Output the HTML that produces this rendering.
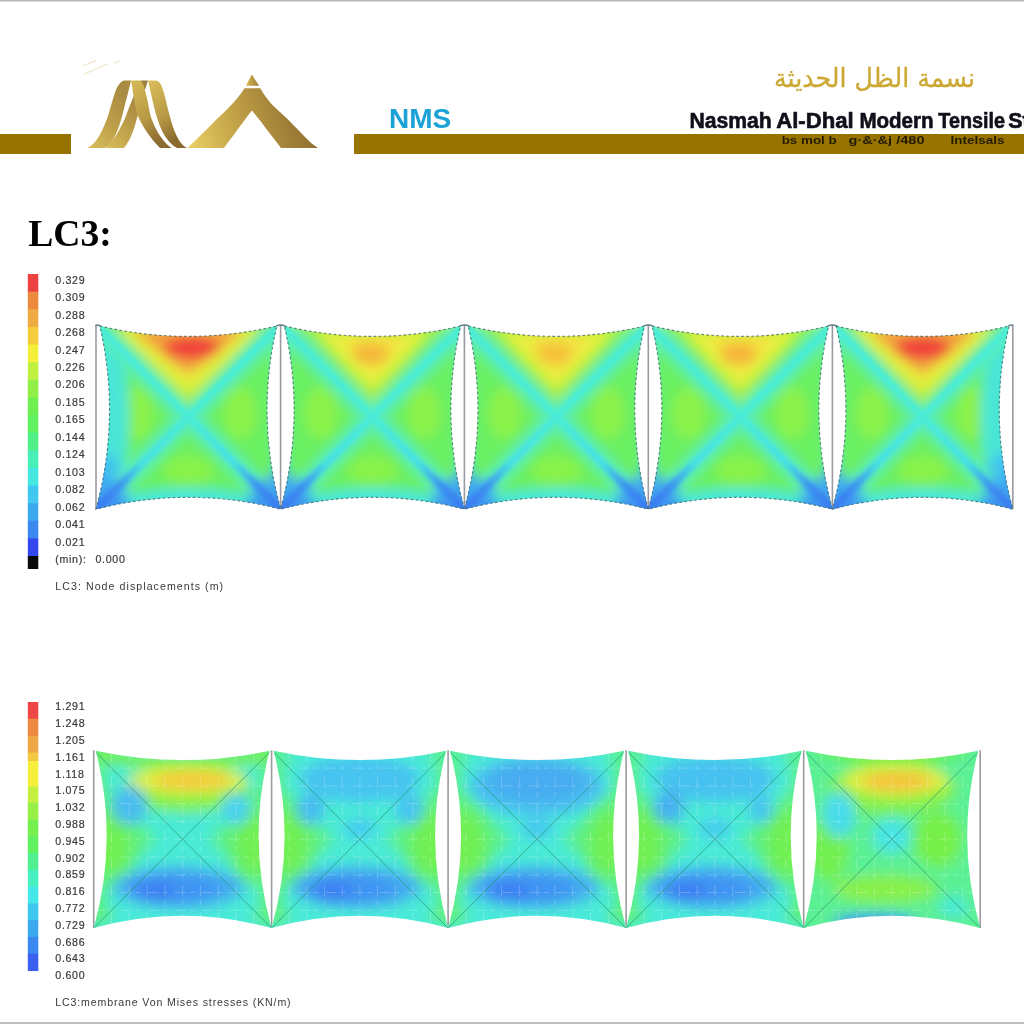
<!DOCTYPE html>
<html><head><meta charset="utf-8"><title>LC3</title>
<style>
html,body{margin:0;padding:0;background:#fff;}
body{width:1024px;height:1024px;position:relative;overflow:hidden;}
</style></head>
<body>
<svg width="1024" height="1024" viewBox="0 0 1024 1024" style="position:absolute;left:0;top:0"><defs>
<linearGradient id="gA" x1="0" y1="1" x2="0.6" y2="0"><stop offset="0" stop-color="#d9bf5c"/><stop offset="0.5" stop-color="#bd9f4a"/><stop offset="1" stop-color="#a88a42"/></linearGradient>
<linearGradient id="gB" x1="0" y1="0" x2="0.4" y2="1"><stop offset="0" stop-color="#d6b957"/><stop offset="0.6" stop-color="#b99a45"/><stop offset="1" stop-color="#8c6c30"/></linearGradient>
<linearGradient id="gC" x1="0" y1="1" x2="0.6" y2="0"><stop offset="0" stop-color="#d8bd58"/><stop offset="0.6" stop-color="#b49545"/><stop offset="1" stop-color="#9c7e3e"/></linearGradient>
<linearGradient id="gD" x1="0" y1="0" x2="0.4" y2="1"><stop offset="0" stop-color="#dbbe5c"/><stop offset="0.6" stop-color="#b89946"/><stop offset="1" stop-color="#8a6a2e"/></linearGradient>
<linearGradient id="gTip" x1="0" y1="0" x2="1" y2="0"><stop offset="0" stop-color="#d8bb55"/><stop offset="1" stop-color="#9a7a38"/></linearGradient>
<linearGradient id="gT" gradientUnits="userSpaceOnUse" x1="190" y1="148" x2="318" y2="110"><stop offset="0" stop-color="#e8cf62"/><stop offset="0.45" stop-color="#bb9a44"/><stop offset="1" stop-color="#87682c"/></linearGradient>
</defs><rect x="0" y="0" width="1024" height="1.5" fill="#b8b8b8"/><rect x="0" y="1022" width="1024" height="2" fill="#bebebe"/><rect x="0" y="134" width="71" height="20" fill="#977400"/><rect x="354" y="134" width="670" height="20" fill="#977400"/><g id="logo">
<path d="M83.2,65.8 L96.1,60.6 M83.8,74.3 L107.8,63.8 M114.2,63.2 L119.5,60.9" stroke="#eee4c6" stroke-width="1.2" fill="none"/>
<path d="M141,80.5 L148,80.5 C144,92 141,102 138,114 C135,126 132,138 124,148 L106,148 C114,140 121,128 125.5,117 C130,105 135,92 141,80.5 Z" fill="url(#gC)"/>
<path d="M131,80.5 L141,80.5 C145,86 147.5,100 150.3,115 C153,124 160,140 171.5,148 L160,148 C150,138 141,124 137.4,115 C135,107 133,92 131,80.5 Z" fill="url(#gB)"/>
<path d="M86.5,148 C96,146 104,128 109,113 C114,97 116,83 124,80.5 L131,80.5 C129,90 126,100 123,113 C119,128 113,145 104.5,148 Z" fill="url(#gA)"/>
<path d="M148,80.5 L156,80.5 C160,81 162,86 164,93 C167,105 170,118 173,127 C177,138 181,145 187,148 L177,148 C168,143 162,133 157.8,120 C154,109 151,93 148,80.5 Z" fill="url(#gD)"/>
<path d="M251.8,74.6 L259.1,85.8 L245.9,85.8 Z" fill="url(#gTip)"/>
<path d="M244.5,88.3 L260.3,88.3 C267,100 273,106 280,112 C290,121 299,131 305,137 C309,141 313,145 318,148 L281,148 C270,134 260,120 251.8,110.5 C246,118 236,132 224,148 L187.3,148 C195,141 205,131 212,124 C222,114 236,102 244.5,88.3 Z" fill="url(#gT)"/>
</g><text x="389" y="127.9" font-family="Liberation Sans, Arial, sans-serif" font-weight="bold" font-size="28" fill="#1ba3d8">NMS</text><text x="874.5" y="86.8" text-anchor="middle" textLength="201" lengthAdjust="spacingAndGlyphs" font-family="DejaVu Sans, sans-serif" font-size="26" fill="#cca833" stroke="#cca833" stroke-width="0.3">نسمة الظل الحديثة</text><g font-family="Liberation Sans, Arial, sans-serif" font-weight="bold" font-size="21.4" fill="#10101a" stroke="#10101a" stroke-width="0.6"><text x="689.4" y="127.6" textLength="82.3" lengthAdjust="spacingAndGlyphs">Nasmah</text><text x="776.2" y="127.6" textLength="77.6" lengthAdjust="spacingAndGlyphs">Al-Dhal</text><text x="859.4" y="127.6" textLength="74.2" lengthAdjust="spacingAndGlyphs">Modern</text><text x="938.3" y="127.6" textLength="66.6" lengthAdjust="spacingAndGlyphs">Tensile</text><text x="1008.3" y="127.6">Structures</text></g><g font-family="Liberation Sans, Arial, sans-serif" font-weight="bold" font-size="10" fill="#251b02"><text x="781.7" y="144" textLength="55" lengthAdjust="spacingAndGlyphs">bs mol b</text><text x="848.5" y="144" textLength="76" lengthAdjust="spacingAndGlyphs">g·&amp;·&amp;j /480</text><text x="950.5" y="144" textLength="54" lengthAdjust="spacingAndGlyphs">Intelsals</text></g><text x="28.2" y="245.6" font-family="Liberation Serif, Times New Roman, serif" font-weight="bold" font-size="37.6" fill="#000">LC3:</text></svg>
<svg width="1024" height="1024" viewBox="0 0 1024 1024" style="position:absolute;left:0;top:0"><defs>
<linearGradient id="dgL" gradientUnits="userSpaceOnUse" x1="0" y1="100" x2="50" y2="50"><stop offset="0" stop-color="#3a78f2"/><stop offset="0.22" stop-color="#3c8cf0"/><stop offset="0.5" stop-color="#46e0e4"/><stop offset="1" stop-color="#4aecd8"/></linearGradient>
<linearGradient id="dgR" gradientUnits="userSpaceOnUse" x1="100" y1="100" x2="50" y2="50"><stop offset="0" stop-color="#3a78f2"/><stop offset="0.22" stop-color="#3c8cf0"/><stop offset="0.5" stop-color="#46e0e4"/><stop offset="1" stop-color="#4aecd8"/></linearGradient>
<filter id="blurT" x="-20%" y="-20%" width="140%" height="140%"><feGaussianBlur stdDeviation="3.2"/></filter><filter id="blurT2" x="-20%" y="-20%" width="140%" height="140%"><feGaussianBlur stdDeviation="1.2"/></filter><filter id="blurB" x="-20%" y="-20%" width="140%" height="140%"><feGaussianBlur stdDeviation="3.6"/></filter></defs><rect x="27.8" y="274.00" width="10.5" height="18.23" fill="#ee4242"/>
<rect x="27.8" y="291.62" width="10.5" height="18.23" fill="#ec8a3e"/>
<rect x="27.8" y="309.25" width="10.5" height="18.23" fill="#f0aa42"/>
<rect x="27.8" y="326.88" width="10.5" height="18.23" fill="#f4cc3c"/>
<rect x="27.8" y="344.50" width="10.5" height="18.23" fill="#f4f03a"/>
<rect x="27.8" y="362.12" width="10.5" height="18.23" fill="#c0f040"/>
<rect x="27.8" y="379.75" width="10.5" height="18.23" fill="#90f048"/>
<rect x="27.8" y="397.38" width="10.5" height="18.23" fill="#70f050"/>
<rect x="27.8" y="415.00" width="10.5" height="18.23" fill="#60f060"/>
<rect x="27.8" y="432.62" width="10.5" height="18.23" fill="#50f088"/>
<rect x="27.8" y="450.25" width="10.5" height="18.23" fill="#48f0b8"/>
<rect x="27.8" y="467.88" width="10.5" height="18.23" fill="#44e8e0"/>
<rect x="27.8" y="485.50" width="10.5" height="18.23" fill="#40c8f0"/>
<rect x="27.8" y="503.12" width="10.5" height="18.23" fill="#3ca8f0"/>
<rect x="27.8" y="520.75" width="10.5" height="18.23" fill="#3a88f0"/>
<rect x="27.8" y="538.38" width="10.5" height="18.23" fill="#3448f0"/><rect x="27.8" y="556" width="10.5" height="13" fill="#080808"/><rect x="27.8" y="702.00" width="10.5" height="17.20" fill="#ee4646"/><rect x="27.8" y="718.70" width="10.5" height="18.10" fill="#ee8a40"/><rect x="27.8" y="736.30" width="10.5" height="16.90" fill="#f0a846"/><rect x="27.8" y="752.70" width="10.5" height="8.80" fill="#f2c840"/><rect x="27.8" y="761.00" width="10.5" height="25.80" fill="#f6f03c"/><rect x="27.8" y="786.30" width="10.5" height="16.70" fill="#c6f040"/><rect x="27.8" y="802.50" width="10.5" height="17.30" fill="#96f046"/><rect x="27.8" y="819.30" width="10.5" height="17.30" fill="#76f04e"/><rect x="27.8" y="836.10" width="10.5" height="17.30" fill="#60f060"/><rect x="27.8" y="852.90" width="10.5" height="17.30" fill="#50f090"/><rect x="27.8" y="869.70" width="10.5" height="17.30" fill="#48f0c0"/><rect x="27.8" y="886.50" width="10.5" height="17.30" fill="#44e8e8"/><rect x="27.8" y="903.30" width="10.5" height="17.30" fill="#40c8f0"/><rect x="27.8" y="920.10" width="10.5" height="17.30" fill="#3ca8f0"/><rect x="27.8" y="936.90" width="10.5" height="17.30" fill="#3a88f0"/><rect x="27.8" y="953.70" width="10.5" height="17.30" fill="#3a60f0"/><line x1="96.0" y1="324.7" x2="96.0" y2="509.2" stroke="#9a9aa0" stroke-width="1.6"/>
<line x1="280.6" y1="324.7" x2="280.6" y2="509.2" stroke="#9a9aa0" stroke-width="1.6"/>
<line x1="464.4" y1="324.7" x2="464.4" y2="509.2" stroke="#9a9aa0" stroke-width="1.6"/>
<line x1="648.3" y1="324.7" x2="648.3" y2="509.2" stroke="#9a9aa0" stroke-width="1.6"/>
<line x1="832.4" y1="324.7" x2="832.4" y2="509.2" stroke="#9a9aa0" stroke-width="1.6"/>
<line x1="1012.8" y1="324.7" x2="1012.8" y2="509.2" stroke="#9a9aa0" stroke-width="1.6"/><path d="M96.0,325.9 Q96.0,324.1 100.5,325.9" stroke="#45646e" stroke-width="1.6" fill="none" opacity="0.8"/><path d="M276.1,325.9 Q280.6,324.1 285.1,325.9" stroke="#45646e" stroke-width="1.6" fill="none" opacity="0.8"/><path d="M459.9,325.9 Q464.4,324.1 468.9,325.9" stroke="#45646e" stroke-width="1.6" fill="none" opacity="0.8"/><path d="M643.8,325.9 Q648.3,324.1 652.8,325.9" stroke="#45646e" stroke-width="1.6" fill="none" opacity="0.8"/><path d="M827.9,325.9 Q832.4,324.1 836.9,325.9" stroke="#45646e" stroke-width="1.6" fill="none" opacity="0.8"/><path d="M1008.3,325.9 Q1012.8,324.1 1012.8,325.9" stroke="#45646e" stroke-width="1.6" fill="none" opacity="0.8"/><clipPath id="tc0"><path d="M99.8,326.0 Q188.3,346.8 276.8,326.0 Q255.6,416.9 280.6,509.2 Q188.3,485.4 96.0,509.2 Q121.0,416.9 99.8,326.0Z"/></clipPath>
<g clip-path="url(#tc0)"><g transform="translate(96.0,324.7) scale(1.8460,1.8450)" filter="url(#blurT)">
<rect x="-10" y="-10" width="120" height="120" fill="#6af062"/>
<ellipse cx="22" cy="48" rx="9" ry="14" fill="#8cf248"/>
<ellipse cx="78" cy="48" rx="9" ry="14" fill="#8cf248"/>
<ellipse cx="50" cy="79" rx="14" ry="8" fill="#88f24a"/>
<path d="M-2,-5 L-2,105 M102,-5 L102,105" stroke="#50eac8" stroke-width="10"/>
<ellipse cx="4" cy="50" rx="14" ry="44" fill="#4ae6d6"/><ellipse cx="5" cy="82" rx="9" ry="13" fill="#42c4ee"/>
<path d="M-5,104 Q50,84 105,104" stroke="#48e8d8" stroke-width="11" fill="none"/>
<path d="M0,0 L100,100 M100,0 L0,100" stroke="#58eebc" stroke-width="10" fill="none"/>
<path d="M0,100 L0,84 L16,84 L16,100Z" fill="#40a8f0"/>
<path d="M100,100 L100,84 L84,84 L84,100Z" fill="#40a8f0"/>
<circle cx="3" cy="97" r="7" fill="#3a80f2"/>
<circle cx="97" cy="97" r="7" fill="#3a80f2"/>
<ellipse cx="9" cy="99" rx="12" ry="4" fill="#3c90f0"/>
<ellipse cx="91" cy="99" rx="12" ry="4" fill="#3c90f0"/>
<ellipse cx="1" cy="86" rx="4" ry="11" fill="#40a8f0"/>
<ellipse cx="99" cy="86" rx="4" ry="11" fill="#40a8f0"/>
<path d="M6,-2 L94,-2 L50,44 Z" fill="#a8f040"/>
<path d="M12,2 Q50,-2 88,2 Q66,24 50,37 Q34,24 12,2 Z" fill="#e6ee3c"/>
<path d="M20,3 Q50,0 80,3 Q63,18 50,27 Q37,18 20,3 Z" fill="#f2a03c"/>
<ellipse cx="52" cy="12.5" rx="15" ry="6" fill="#f0403a"/>
</g><g transform="translate(96.0,324.7) scale(1.8460,1.8450)" filter="url(#blurT2)"><path d="M1,1 L50,50 M99,1 L50,50" stroke="#4aecd8" stroke-width="3.6" fill="none"/><path d="M0,100 L50,50" stroke="url(#dgL)" stroke-width="4.2" fill="none"/><path d="M100,100 L50,50" stroke="url(#dgR)" stroke-width="4.2" fill="none"/></g></g>
<path d="M99.8,326.0 Q188.3,346.8 276.8,326.0 Q255.6,416.9 280.6,509.2 Q188.3,485.4 96.0,509.2 Q121.0,416.9 99.8,326.0Z" fill="none" stroke="#3d6068" stroke-width="1.15" stroke-dasharray="2.6,2.4" opacity="0.75"/><clipPath id="tc1"><path d="M284.4,326.0 Q372.5,346.8 460.6,326.0 Q439.4,416.9 464.4,509.2 Q372.5,485.4 280.6,509.2 Q305.6,416.9 284.4,326.0Z"/></clipPath>
<g clip-path="url(#tc1)"><g transform="translate(280.6,324.7) scale(1.8380,1.8450)" filter="url(#blurT)">
<rect x="-10" y="-10" width="120" height="120" fill="#6af062"/>
<ellipse cx="22" cy="48" rx="9" ry="14" fill="#8cf248"/>
<ellipse cx="78" cy="48" rx="9" ry="14" fill="#8cf248"/>
<ellipse cx="50" cy="79" rx="14" ry="8" fill="#88f24a"/>
<path d="M-2,-5 L-2,105 M102,-5 L102,105" stroke="#50eac8" stroke-width="10"/>

<path d="M-5,104 Q50,84 105,104" stroke="#48e8d8" stroke-width="11" fill="none"/>
<path d="M0,0 L100,100 M100,0 L0,100" stroke="#58eebc" stroke-width="10" fill="none"/>
<path d="M0,100 L0,84 L16,84 L16,100Z" fill="#40a8f0"/>
<path d="M100,100 L100,84 L84,84 L84,100Z" fill="#40a8f0"/>
<circle cx="3" cy="97" r="7" fill="#3a80f2"/>
<circle cx="97" cy="97" r="7" fill="#3a80f2"/>
<ellipse cx="9" cy="99" rx="12" ry="4" fill="#3c90f0"/>
<ellipse cx="91" cy="99" rx="12" ry="4" fill="#3c90f0"/>
<ellipse cx="1" cy="86" rx="4" ry="11" fill="#40a8f0"/>
<ellipse cx="99" cy="86" rx="4" ry="11" fill="#40a8f0"/>
<path d="M10,-2 L90,-2 L50,42 Z" fill="#a8f040"/>
<path d="M20,3 Q50,-1 80,3 Q64,22 50,34 Q36,22 20,3 Z" fill="#e8f040"/>
<path d="M33,7 Q50,4 67,7 Q58,19 50,26 Q42,19 33,7 Z" fill="#f5e040"/>
<ellipse cx="49" cy="16" rx="10" ry="5.5" fill="#f5b53a"/>
<path d="M4,-3 Q50,9 96,-3" stroke="#b4f040" stroke-width="5" fill="none"/>
</g><g transform="translate(280.6,324.7) scale(1.8380,1.8450)" filter="url(#blurT2)"><path d="M1,1 L50,50 M99,1 L50,50" stroke="#4aecd8" stroke-width="3.6" fill="none"/><path d="M0,100 L50,50" stroke="url(#dgL)" stroke-width="4.2" fill="none"/><path d="M100,100 L50,50" stroke="url(#dgR)" stroke-width="4.2" fill="none"/></g></g>
<path d="M284.4,326.0 Q372.5,346.8 460.6,326.0 Q439.4,416.9 464.4,509.2 Q372.5,485.4 280.6,509.2 Q305.6,416.9 284.4,326.0Z" fill="none" stroke="#3d6068" stroke-width="1.15" stroke-dasharray="2.6,2.4" opacity="0.75"/><clipPath id="tc2"><path d="M468.2,326.0 Q556.3,346.8 644.5,326.0 Q623.3,416.9 648.3,509.2 Q556.3,485.4 464.4,509.2 Q489.4,416.9 468.2,326.0Z"/></clipPath>
<g clip-path="url(#tc2)"><g transform="translate(464.4,324.7) scale(1.8390,1.8450)" filter="url(#blurT)">
<rect x="-10" y="-10" width="120" height="120" fill="#6af062"/>
<ellipse cx="22" cy="48" rx="9" ry="14" fill="#8cf248"/>
<ellipse cx="78" cy="48" rx="9" ry="14" fill="#8cf248"/>
<ellipse cx="50" cy="79" rx="14" ry="8" fill="#88f24a"/>
<path d="M-2,-5 L-2,105 M102,-5 L102,105" stroke="#50eac8" stroke-width="10"/>

<path d="M-5,104 Q50,84 105,104" stroke="#48e8d8" stroke-width="11" fill="none"/>
<path d="M0,0 L100,100 M100,0 L0,100" stroke="#58eebc" stroke-width="10" fill="none"/>
<path d="M0,100 L0,84 L16,84 L16,100Z" fill="#40a8f0"/>
<path d="M100,100 L100,84 L84,84 L84,100Z" fill="#40a8f0"/>
<circle cx="3" cy="97" r="7" fill="#3a80f2"/>
<circle cx="97" cy="97" r="7" fill="#3a80f2"/>
<ellipse cx="9" cy="99" rx="12" ry="4" fill="#3c90f0"/>
<ellipse cx="91" cy="99" rx="12" ry="4" fill="#3c90f0"/>
<ellipse cx="1" cy="86" rx="4" ry="11" fill="#40a8f0"/>
<ellipse cx="99" cy="86" rx="4" ry="11" fill="#40a8f0"/>
<path d="M10,-2 L90,-2 L50,42 Z" fill="#a8f040"/>
<path d="M20,3 Q50,-1 80,3 Q64,22 50,34 Q36,22 20,3 Z" fill="#e8f040"/>
<path d="M33,7 Q50,4 67,7 Q58,19 50,26 Q42,19 33,7 Z" fill="#f5e040"/>
<ellipse cx="49" cy="16" rx="10" ry="5.5" fill="#f5c03a"/>
<path d="M4,-3 Q50,9 96,-3" stroke="#b4f040" stroke-width="5" fill="none"/>
</g><g transform="translate(464.4,324.7) scale(1.8390,1.8450)" filter="url(#blurT2)"><path d="M1,1 L50,50 M99,1 L50,50" stroke="#4aecd8" stroke-width="3.6" fill="none"/><path d="M0,100 L50,50" stroke="url(#dgL)" stroke-width="4.2" fill="none"/><path d="M100,100 L50,50" stroke="url(#dgR)" stroke-width="4.2" fill="none"/></g></g>
<path d="M468.2,326.0 Q556.3,346.8 644.5,326.0 Q623.3,416.9 648.3,509.2 Q556.3,485.4 464.4,509.2 Q489.4,416.9 468.2,326.0Z" fill="none" stroke="#3d6068" stroke-width="1.15" stroke-dasharray="2.6,2.4" opacity="0.75"/><clipPath id="tc3"><path d="M652.1,326.0 Q740.3,346.8 828.6,326.0 Q807.4,416.9 832.4,509.2 Q740.3,485.4 648.3,509.2 Q673.3,416.9 652.1,326.0Z"/></clipPath>
<g clip-path="url(#tc3)"><g transform="translate(648.3,324.7) scale(1.8410,1.8450)" filter="url(#blurT)">
<rect x="-10" y="-10" width="120" height="120" fill="#6af062"/>
<ellipse cx="22" cy="48" rx="9" ry="14" fill="#8cf248"/>
<ellipse cx="78" cy="48" rx="9" ry="14" fill="#8cf248"/>
<ellipse cx="50" cy="79" rx="14" ry="8" fill="#88f24a"/>
<path d="M-2,-5 L-2,105 M102,-5 L102,105" stroke="#50eac8" stroke-width="10"/>

<path d="M-5,104 Q50,84 105,104" stroke="#48e8d8" stroke-width="11" fill="none"/>
<path d="M0,0 L100,100 M100,0 L0,100" stroke="#58eebc" stroke-width="10" fill="none"/>
<path d="M0,100 L0,84 L16,84 L16,100Z" fill="#40a8f0"/>
<path d="M100,100 L100,84 L84,84 L84,100Z" fill="#40a8f0"/>
<circle cx="3" cy="97" r="7" fill="#3a80f2"/>
<circle cx="97" cy="97" r="7" fill="#3a80f2"/>
<ellipse cx="9" cy="99" rx="12" ry="4" fill="#3c90f0"/>
<ellipse cx="91" cy="99" rx="12" ry="4" fill="#3c90f0"/>
<ellipse cx="1" cy="86" rx="4" ry="11" fill="#40a8f0"/>
<ellipse cx="99" cy="86" rx="4" ry="11" fill="#40a8f0"/>
<path d="M10,-2 L90,-2 L50,42 Z" fill="#a8f040"/>
<path d="M20,3 Q50,-1 80,3 Q64,22 50,34 Q36,22 20,3 Z" fill="#e8f040"/>
<path d="M33,7 Q50,4 67,7 Q58,19 50,26 Q42,19 33,7 Z" fill="#f5e040"/>
<ellipse cx="49" cy="16" rx="10" ry="5.5" fill="#f5b23a"/>
<path d="M4,-3 Q50,9 96,-3" stroke="#b4f040" stroke-width="5" fill="none"/>
</g><g transform="translate(648.3,324.7) scale(1.8410,1.8450)" filter="url(#blurT2)"><path d="M1,1 L50,50 M99,1 L50,50" stroke="#4aecd8" stroke-width="3.6" fill="none"/><path d="M0,100 L50,50" stroke="url(#dgL)" stroke-width="4.2" fill="none"/><path d="M100,100 L50,50" stroke="url(#dgR)" stroke-width="4.2" fill="none"/></g></g>
<path d="M652.1,326.0 Q740.3,346.8 828.6,326.0 Q807.4,416.9 832.4,509.2 Q740.3,485.4 648.3,509.2 Q673.3,416.9 652.1,326.0Z" fill="none" stroke="#3d6068" stroke-width="1.15" stroke-dasharray="2.6,2.4" opacity="0.75"/><clipPath id="tc4"><path d="M836.2,326.0 Q922.6,346.8 1009.0,326.0 Q987.8,416.9 1012.8,509.2 Q922.6,485.4 832.4,509.2 Q857.4,416.9 836.2,326.0Z"/></clipPath>
<g clip-path="url(#tc4)"><g transform="translate(832.4,324.7) scale(1.8040,1.8450)" filter="url(#blurT)">
<rect x="-10" y="-10" width="120" height="120" fill="#6af062"/>
<ellipse cx="22" cy="48" rx="9" ry="14" fill="#8cf248"/>
<ellipse cx="78" cy="48" rx="9" ry="14" fill="#8cf248"/>
<ellipse cx="50" cy="79" rx="14" ry="8" fill="#88f24a"/>
<path d="M-2,-5 L-2,105 M102,-5 L102,105" stroke="#50eac8" stroke-width="10"/>
<ellipse cx="96" cy="50" rx="14" ry="44" fill="#4ae6d6"/><ellipse cx="95" cy="82" rx="9" ry="13" fill="#42c4ee"/>
<path d="M-5,104 Q50,84 105,104" stroke="#48e8d8" stroke-width="11" fill="none"/>
<path d="M0,0 L100,100 M100,0 L0,100" stroke="#58eebc" stroke-width="10" fill="none"/>
<path d="M0,100 L0,84 L16,84 L16,100Z" fill="#40a8f0"/>
<path d="M100,100 L100,84 L84,84 L84,100Z" fill="#40a8f0"/>
<circle cx="3" cy="97" r="7" fill="#3a80f2"/>
<circle cx="97" cy="97" r="7" fill="#3a80f2"/>
<ellipse cx="9" cy="99" rx="12" ry="4" fill="#3c90f0"/>
<ellipse cx="91" cy="99" rx="12" ry="4" fill="#3c90f0"/>
<ellipse cx="1" cy="86" rx="4" ry="11" fill="#40a8f0"/>
<ellipse cx="99" cy="86" rx="4" ry="11" fill="#40a8f0"/>
<path d="M6,-2 L94,-2 L50,44 Z" fill="#a8f040"/>
<path d="M12,2 Q50,-2 88,2 Q66,24 50,37 Q34,24 12,2 Z" fill="#e6ee3c"/>
<path d="M20,3 Q50,0 80,3 Q63,18 50,27 Q37,18 20,3 Z" fill="#f2a03c"/>
<ellipse cx="50" cy="12.5" rx="15" ry="6" fill="#f0403a"/>
</g><g transform="translate(832.4,324.7) scale(1.8040,1.8450)" filter="url(#blurT2)"><path d="M1,1 L50,50 M99,1 L50,50" stroke="#4aecd8" stroke-width="3.6" fill="none"/><path d="M0,100 L50,50" stroke="url(#dgL)" stroke-width="4.2" fill="none"/><path d="M100,100 L50,50" stroke="url(#dgR)" stroke-width="4.2" fill="none"/></g></g>
<path d="M836.2,326.0 Q922.6,346.8 1009.0,326.0 Q987.8,416.9 1012.8,509.2 Q922.6,485.4 832.4,509.2 Q857.4,416.9 836.2,326.0Z" fill="none" stroke="#3d6068" stroke-width="1.15" stroke-dasharray="2.6,2.4" opacity="0.75"/><line x1="93.7" y1="750.3" x2="93.7" y2="928.1" stroke="#9a9aa0" stroke-width="1.6"/>
<line x1="271.6" y1="750.3" x2="271.6" y2="928.1" stroke="#9a9aa0" stroke-width="1.6"/>
<line x1="448.1" y1="750.3" x2="448.1" y2="928.1" stroke="#9a9aa0" stroke-width="1.6"/>
<line x1="626.1" y1="750.3" x2="626.1" y2="928.1" stroke="#9a9aa0" stroke-width="1.6"/>
<line x1="803.7" y1="750.3" x2="803.7" y2="928.1" stroke="#9a9aa0" stroke-width="1.6"/>
<line x1="980.2" y1="750.3" x2="980.2" y2="928.1" stroke="#9a9aa0" stroke-width="1.6"/><clipPath id="bc0"><path d="M95.7,750.7 Q182.7,769.5 269.6,750.7 Q246.6,839.2 271.6,928.1 Q182.7,903.5 93.7,928.1 Q118.7,839.2 95.7,750.7Z"/></clipPath>
<g clip-path="url(#bc0)"><g transform="translate(93.7,750.3) scale(1.7790,1.7780)" filter="url(#blurB)"><rect x="-10" y="-10" width="120" height="120" fill="#4aead6"/><path d="M-2,12 L36,50 L-2,88 Z M102,12 L64,50 L102,88 Z" fill="#5cf090"/>
<path d="M1,8 L1,92 M99,8 L99,92" stroke="#5ef082" stroke-width="12"/>
<ellipse cx="8" cy="52" rx="18" ry="24" fill="#62f07a"/>
<ellipse cx="92" cy="52" rx="18" ry="24" fill="#62f07a"/>
<ellipse cx="9" cy="52" rx="11" ry="17" fill="#70f052"/>
<ellipse cx="91" cy="52" rx="11" ry="17" fill="#70f052"/>
<circle cx="2" cy="2" r="9" fill="#58f098"/>
<circle cx="98" cy="2" r="9" fill="#58f098"/>
<circle cx="3" cy="98" r="9" fill="#5ef078"/>
<circle cx="97" cy="98" r="9" fill="#5ef078"/>
<path d="M-5,103 Q50,86 105,103" stroke="#48eadc" stroke-width="6" fill="none"/>
<path d="M0,1 Q50,13 100,1" stroke="#74f04c" stroke-width="9" fill="none"/>
<ellipse cx="52" cy="22" rx="36" ry="13" fill="#84f04a"/>
<ellipse cx="53" cy="17" rx="33" ry="8" fill="#dcf040"/>
<ellipse cx="55" cy="17" rx="22" ry="5" fill="#f6c83c"/>
<ellipse cx="20" cy="31" rx="10" ry="11" fill="#48bcf0"/>
<ellipse cx="80" cy="33" rx="8" ry="9" fill="#48d0f0"/><ellipse cx="48" cy="77" rx="37" ry="12" fill="#44aef0"/>
<ellipse cx="46" cy="78" rx="26" ry="8" fill="#4094f2"/>
<ellipse cx="34" cy="79" rx="12" ry="6" fill="#3c80f2"/></g>
<path d="M111.5,750.3V928.1M93.7,768.1H271.6M129.3,750.3V928.1M93.7,785.9H271.6M147.1,750.3V928.1M93.7,803.6H271.6M164.9,750.3V928.1M93.7,821.4H271.6M182.7,750.3V928.1M93.7,839.2H271.6M200.4,750.3V928.1M93.7,857.0H271.6M218.2,750.3V928.1M93.7,874.8H271.6M236.0,750.3V928.1M93.7,892.5H271.6M253.8,750.3V928.1M93.7,910.3H271.6" stroke="#fff" stroke-width="1" opacity="0.22" stroke-dasharray="11,4,5,7"/>
<path d="M93.7,750.3 L271.6,928.1 M271.6,750.3 L93.7,928.1" stroke="#23946e" stroke-width="0.9" opacity="0.75"/>
</g><clipPath id="bc1"><path d="M273.6,750.7 Q359.9,769.5 446.1,750.7 Q423.1,839.2 448.1,928.1 Q359.9,903.5 271.6,928.1 Q296.6,839.2 273.6,750.7Z"/></clipPath>
<g clip-path="url(#bc1)"><g transform="translate(271.6,750.3) scale(1.7650,1.7780)" filter="url(#blurB)"><rect x="-10" y="-10" width="120" height="120" fill="#4aead6"/><path d="M-2,12 L36,50 L-2,88 Z M102,12 L64,50 L102,88 Z" fill="#5cf090"/>
<path d="M1,8 L1,92 M99,8 L99,92" stroke="#5ef082" stroke-width="12"/>
<ellipse cx="8" cy="52" rx="18" ry="24" fill="#62f07a"/>
<ellipse cx="92" cy="52" rx="18" ry="24" fill="#62f07a"/>
<ellipse cx="9" cy="52" rx="11" ry="17" fill="#70f052"/>
<ellipse cx="91" cy="52" rx="11" ry="17" fill="#70f052"/>
<circle cx="2" cy="2" r="9" fill="#58f098"/>
<circle cx="98" cy="2" r="9" fill="#58f098"/>
<circle cx="3" cy="98" r="9" fill="#5ef078"/>
<circle cx="97" cy="98" r="9" fill="#5ef078"/>
<path d="M-5,103 Q50,86 105,103" stroke="#48eadc" stroke-width="6" fill="none"/>
<ellipse cx="50" cy="16" rx="34" ry="13" fill="#46c4f0"/>
<ellipse cx="22" cy="33" rx="8" ry="9" fill="#46bcf0"/>
<ellipse cx="78" cy="33" rx="8" ry="9" fill="#46c4f0"/>
<ellipse cx="50" cy="44" rx="9" ry="6" fill="#46ccf0"/><ellipse cx="48" cy="77" rx="37" ry="12" fill="#44aef0"/>
<ellipse cx="46" cy="78" rx="26" ry="8" fill="#4094f2"/>
<ellipse cx="34" cy="79" rx="12" ry="6" fill="#3c80f2"/></g>
<path d="M289.2,750.3V928.1M271.6,768.1H448.1M306.9,750.3V928.1M271.6,785.9H448.1M324.6,750.3V928.1M271.6,803.6H448.1M342.2,750.3V928.1M271.6,821.4H448.1M359.9,750.3V928.1M271.6,839.2H448.1M377.5,750.3V928.1M271.6,857.0H448.1M395.2,750.3V928.1M271.6,874.8H448.1M412.8,750.3V928.1M271.6,892.5H448.1M430.5,750.3V928.1M271.6,910.3H448.1" stroke="#fff" stroke-width="1" opacity="0.22" stroke-dasharray="11,4,5,7"/>
<path d="M271.6,750.3 L448.1,928.1 M448.1,750.3 L271.6,928.1" stroke="#23946e" stroke-width="0.9" opacity="0.75"/>
</g><clipPath id="bc2"><path d="M450.1,750.7 Q537.1,769.5 624.1,750.7 Q601.1,839.2 626.1,928.1 Q537.1,903.5 448.1,928.1 Q473.1,839.2 450.1,750.7Z"/></clipPath>
<g clip-path="url(#bc2)"><g transform="translate(448.1,750.3) scale(1.7800,1.7780)" filter="url(#blurB)"><rect x="-10" y="-10" width="120" height="120" fill="#4aead6"/><path d="M-2,12 L36,50 L-2,88 Z M102,12 L64,50 L102,88 Z" fill="#5cf090"/>
<path d="M1,8 L1,92 M99,8 L99,92" stroke="#5ef082" stroke-width="12"/>
<ellipse cx="8" cy="52" rx="18" ry="24" fill="#62f07a"/>
<ellipse cx="92" cy="52" rx="18" ry="24" fill="#62f07a"/>
<ellipse cx="9" cy="52" rx="11" ry="17" fill="#70f052"/>
<ellipse cx="91" cy="52" rx="11" ry="17" fill="#70f052"/>
<circle cx="2" cy="2" r="9" fill="#58f098"/>
<circle cx="98" cy="2" r="9" fill="#58f098"/>
<circle cx="3" cy="98" r="9" fill="#5ef078"/>
<circle cx="97" cy="98" r="9" fill="#5ef078"/>
<path d="M-5,103 Q50,86 105,103" stroke="#48eadc" stroke-width="6" fill="none"/>
<ellipse cx="50" cy="20" rx="38" ry="17" fill="#48c0f0"/>
<ellipse cx="50" cy="18" rx="28" ry="11" fill="#46acf0"/>
<ellipse cx="50" cy="44" rx="9" ry="6" fill="#46c8f0"/><ellipse cx="48" cy="77" rx="37" ry="12" fill="#44aef0"/>
<ellipse cx="46" cy="78" rx="26" ry="8" fill="#4094f2"/>
<ellipse cx="34" cy="79" rx="12" ry="6" fill="#3c80f2"/></g>
<path d="M465.9,750.3V928.1M448.1,768.1H626.1M483.7,750.3V928.1M448.1,785.9H626.1M501.5,750.3V928.1M448.1,803.6H626.1M519.3,750.3V928.1M448.1,821.4H626.1M537.1,750.3V928.1M448.1,839.2H626.1M554.9,750.3V928.1M448.1,857.0H626.1M572.7,750.3V928.1M448.1,874.8H626.1M590.5,750.3V928.1M448.1,892.5H626.1M608.3,750.3V928.1M448.1,910.3H626.1" stroke="#fff" stroke-width="1" opacity="0.22" stroke-dasharray="11,4,5,7"/>
<path d="M448.1,750.3 L626.1,928.1 M626.1,750.3 L448.1,928.1" stroke="#23946e" stroke-width="0.9" opacity="0.75"/>
</g><clipPath id="bc3"><path d="M628.1,750.7 Q714.9,769.5 801.7,750.7 Q778.7,839.2 803.7,928.1 Q714.9,903.5 626.1,928.1 Q651.1,839.2 628.1,750.7Z"/></clipPath>
<g clip-path="url(#bc3)"><g transform="translate(626.1,750.3) scale(1.7760,1.7780)" filter="url(#blurB)"><rect x="-10" y="-10" width="120" height="120" fill="#4aead6"/><path d="M-2,12 L36,50 L-2,88 Z M102,12 L64,50 L102,88 Z" fill="#5cf090"/>
<path d="M1,8 L1,92 M99,8 L99,92" stroke="#5ef082" stroke-width="12"/>
<ellipse cx="8" cy="52" rx="18" ry="24" fill="#62f07a"/>
<ellipse cx="92" cy="52" rx="18" ry="24" fill="#62f07a"/>
<ellipse cx="9" cy="52" rx="11" ry="17" fill="#70f052"/>
<ellipse cx="91" cy="52" rx="11" ry="17" fill="#70f052"/>
<circle cx="2" cy="2" r="9" fill="#58f098"/>
<circle cx="98" cy="2" r="9" fill="#58f098"/>
<circle cx="3" cy="98" r="9" fill="#5ef078"/>
<circle cx="97" cy="98" r="9" fill="#5ef078"/>
<path d="M-5,103 Q50,86 105,103" stroke="#48eadc" stroke-width="6" fill="none"/>
<ellipse cx="50" cy="16" rx="34" ry="13" fill="#46c2f0"/>
<ellipse cx="24" cy="32" rx="9" ry="9" fill="#46b0f0"/>
<ellipse cx="76" cy="33" rx="7" ry="8" fill="#46c6f0"/>
<ellipse cx="50" cy="44" rx="9" ry="6" fill="#46ccf0"/><ellipse cx="48" cy="77" rx="37" ry="12" fill="#44aef0"/>
<ellipse cx="46" cy="78" rx="26" ry="8" fill="#4094f2"/>
<ellipse cx="34" cy="79" rx="12" ry="6" fill="#3c80f2"/></g>
<path d="M643.9,750.3V928.1M626.1,768.1H803.7M661.6,750.3V928.1M626.1,785.9H803.7M679.4,750.3V928.1M626.1,803.6H803.7M697.1,750.3V928.1M626.1,821.4H803.7M714.9,750.3V928.1M626.1,839.2H803.7M732.7,750.3V928.1M626.1,857.0H803.7M750.4,750.3V928.1M626.1,874.8H803.7M768.2,750.3V928.1M626.1,892.5H803.7M785.9,750.3V928.1M626.1,910.3H803.7" stroke="#fff" stroke-width="1" opacity="0.22" stroke-dasharray="11,4,5,7"/>
<path d="M626.1,750.3 L803.7,928.1 M803.7,750.3 L626.1,928.1" stroke="#23946e" stroke-width="0.9" opacity="0.75"/>
</g><clipPath id="bc4"><path d="M805.7,750.7 Q892.0,769.5 978.2,750.7 Q955.2,839.2 980.2,928.1 Q892.0,903.5 803.7,928.1 Q828.7,839.2 805.7,750.7Z"/></clipPath>
<g clip-path="url(#bc4)"><g transform="translate(803.7,750.3) scale(1.7650,1.7780)" filter="url(#blurB)"><rect x="-10" y="-10" width="120" height="120" fill="#5cf094"/>
<ellipse cx="14" cy="56" rx="12" ry="18" fill="#72f050"/>
<ellipse cx="76" cy="50" rx="14" ry="16" fill="#76f04a"/>
<path d="M8,0 Q50,22 92,0 L92,-8 L8,-8Z" fill="#6cf050"/>
<ellipse cx="50" cy="22" rx="36" ry="14" fill="#84f048"/>
<ellipse cx="52" cy="17" rx="30" ry="9" fill="#dcf040"/>
<ellipse cx="53" cy="17.5" rx="20" ry="5.5" fill="#f6c23c"/>
<ellipse cx="20" cy="36" rx="9" ry="13" fill="#48dcec"/>
<ellipse cx="50" cy="48" rx="11" ry="10" fill="#48e4e4"/>
<ellipse cx="46" cy="78" rx="30" ry="8" fill="#88f048"/>
<ellipse cx="40" cy="97" rx="24" ry="5" fill="#3e94f0"/>
<ellipse cx="85" cy="88" rx="8" ry="6" fill="#48e8d8"/></g>
<path d="M821.4,750.3V928.1M803.7,768.1H980.2M839.0,750.3V928.1M803.7,785.9H980.2M856.7,750.3V928.1M803.7,803.6H980.2M874.3,750.3V928.1M803.7,821.4H980.2M892.0,750.3V928.1M803.7,839.2H980.2M909.6,750.3V928.1M803.7,857.0H980.2M927.2,750.3V928.1M803.7,874.8H980.2M944.9,750.3V928.1M803.7,892.5H980.2M962.6,750.3V928.1M803.7,910.3H980.2" stroke="#fff" stroke-width="1" opacity="0.22" stroke-dasharray="11,4,5,7"/>
<path d="M803.7,750.3 L980.2,928.1 M980.2,750.3 L803.7,928.1" stroke="#23946e" stroke-width="0.9" opacity="0.75"/>
</g><g font-family="Liberation Sans, sans-serif" font-size="10.6" fill="#3a3a3a" stroke="#3a3a3a" stroke-width="0.2" letter-spacing="0.7"><text x="55.3" y="283.75">0.329</text>
<text x="55.3" y="301.20">0.309</text>
<text x="55.3" y="318.65">0.288</text>
<text x="55.3" y="336.10">0.268</text>
<text x="55.3" y="353.55">0.247</text>
<text x="55.3" y="371.00">0.226</text>
<text x="55.3" y="388.45">0.206</text>
<text x="55.3" y="405.90">0.185</text>
<text x="55.3" y="423.35">0.165</text>
<text x="55.3" y="440.80">0.144</text>
<text x="55.3" y="458.25">0.124</text>
<text x="55.3" y="475.70">0.103</text>
<text x="55.3" y="493.15">0.082</text>
<text x="55.3" y="510.60">0.062</text>
<text x="55.3" y="528.05">0.041</text>
<text x="55.3" y="545.50">0.021</text><text x="55.3" y="562.9">(min):</text><text x="95.5" y="562.9">0.000</text><text x="55.3" y="589.7" textLength="168.5" stroke="none">LC3: Node displacements (m)</text><text x="55.3" y="710.30">1.291</text>
<text x="55.3" y="727.10">1.248</text>
<text x="55.3" y="743.90">1.205</text>
<text x="55.3" y="760.70">1.161</text>
<text x="55.3" y="777.50">1.118</text>
<text x="55.3" y="794.30">1.075</text>
<text x="55.3" y="811.10">1.032</text>
<text x="55.3" y="827.90">0.988</text>
<text x="55.3" y="844.70">0.945</text>
<text x="55.3" y="861.50">0.902</text>
<text x="55.3" y="878.30">0.859</text>
<text x="55.3" y="895.10">0.816</text>
<text x="55.3" y="911.90">0.772</text>
<text x="55.3" y="928.70">0.729</text>
<text x="55.3" y="945.50">0.686</text>
<text x="55.3" y="962.30">0.643</text>
<text x="55.3" y="979.10">0.600</text><text x="55.3" y="1005.5" textLength="236" stroke="none">LC3:membrane Von Mises stresses (KN/m)</text></g></svg>
</body></html>
